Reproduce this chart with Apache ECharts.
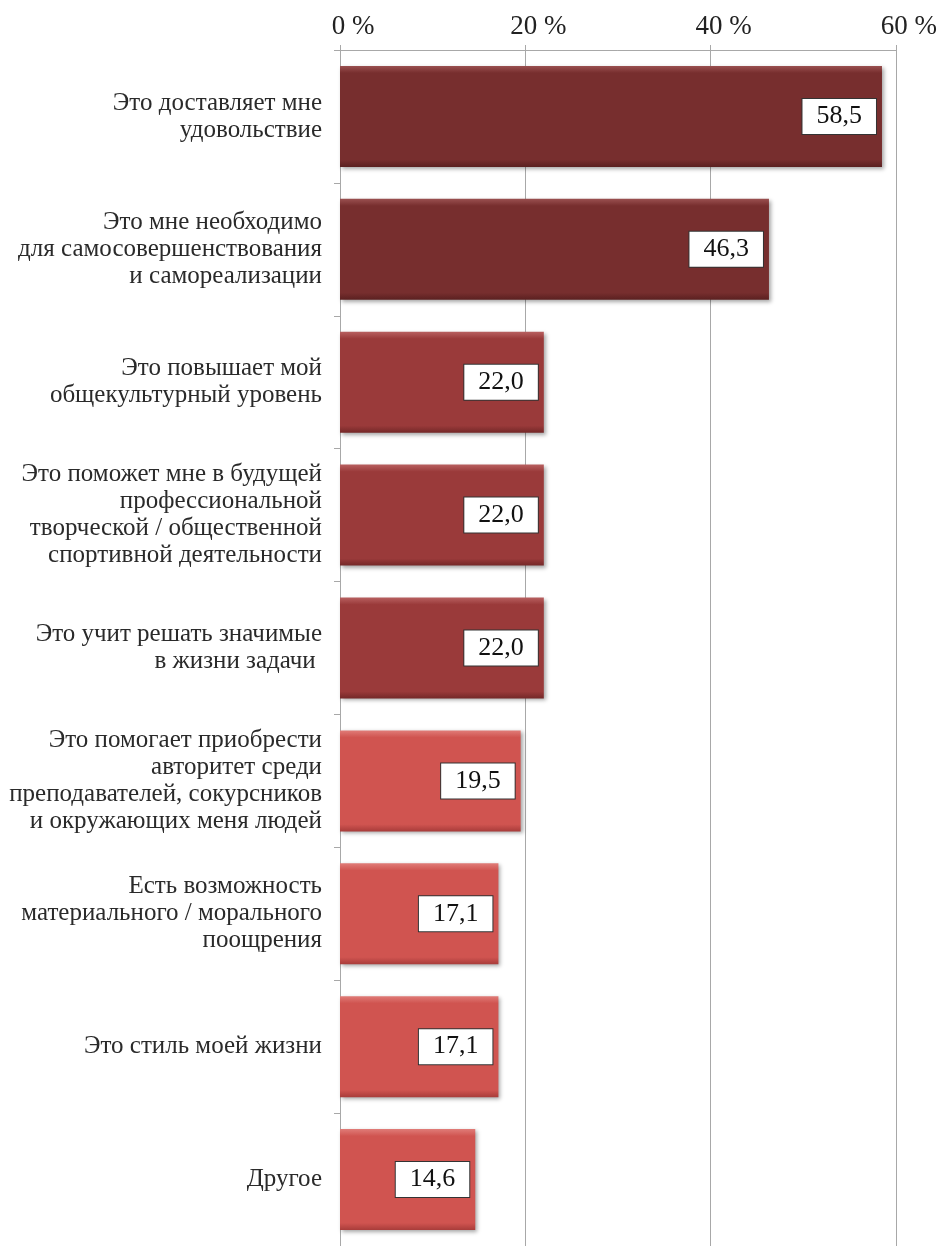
<!DOCTYPE html>
<html>
<head>
<meta charset="utf-8">
<script src="https://cdn.jsdelivr.net/npm/echarts@6/dist/echarts.min.js"></script>
<style>
html,body{margin:0;padding:0;background:#fff;}
#chart{width:940px;height:1246px;}
</style>
</head>
<body>
<div id="chart"></div>
<script>
const categories = [
  "Это доставляет мне\nудовольствие",
  "Это мне необходимо\nдля самосовершенствования\nи самореализации",
  "Это повышает мой\nобщекультурный уровень",
  "Это поможет мне в будущей\nпрофессиональной\nтворческой / общественной\nспортивной деятельности",
  "Это учит решать значимые\nв жизни задачи ",
  "Это помогает приобрести\nавторитет среди\nпреподавателей, сокурсников\nи окружающих меня людей",
  "Есть возможность\nматериального / морального\nпоощрения",
  "Это стиль моей жизни",
  "Другое"
];
const values = [58.5, 46.3, 22.0, 22.0, 22.0, 19.5, 17.1, 17.1, 14.6];
const tickValues = [0, 20, 40, 60];
const colorGroup = [0, 0, 1, 1, 1, 2, 2, 2, 2];

const palette = [
  {base:'#772e2e', light:'#9a5050', dark:'#5a2020'},
  {base:'#9a3a3a', light:'#b86060', dark:'#742828'},
  {base:'#d05450', light:'#e07c78', dark:'#a83c3a'}
];

function grad(p){
  return new echarts.graphic.LinearGradient(0,0,0,1,[
    {offset:0, color:p.light},
    {offset:0.07, color:p.base},
    {offset:0.93, color:p.base},
    {offset:1, color:p.dark}
  ]);
}

const chart = echarts.init(document.getElementById('chart'), null, {renderer:'canvas'});
const font = '"Liberation Serif", "Times New Roman", serif';

chart.setOption({
  animation:false,
  backgroundColor:'#fff',
  grid:{left:340, right:43, top:50, bottom:0},
  xAxis:{
    type:'value', position:'top', min:0, max:60, interval:20,
    axisLine:{show:true, lineStyle:{color:'#a8a8a8', width:1}},
    axisTick:{show:true, length:5, lineStyle:{color:'#a8a8a8'}},
    splitLine:{show:true, lineStyle:{color:'#a8a8a8', width:1}},
    axisLabel:{
      color:'#222', fontFamily:font, fontSize:27, margin:10,
      padding:[0,0,0,26],
      formatter:function(v){ return tickValues.indexOf(v) >= 0 ? v + ' %' : ''; }
    }
  },
  yAxis:{
    type:'category', inverse:true, data:categories,
    axisLine:{show:true, lineStyle:{color:'#a8a8a8', width:1}},
    axisTick:{show:true, length:6, alignWithLabel:false, lineStyle:{color:'#a8a8a8'}},
    axisLabel:{
      color:'#2a2a2a', fontFamily:font, fontSize:25, lineHeight:27, margin:18, align:'right'
    }
  },
  series:[{
    type:'bar',
    data: values.map(function(v,i){
      return {value:v, itemStyle:{color:grad(palette[colorGroup[i]])}};
    }),
    barCategoryGap:'24%',
    itemStyle:{
      shadowColor:'rgba(0,0,0,0.35)', shadowBlur:4, shadowOffsetX:2, shadowOffsetY:2
    },
    label:{
      show:true, position:'insideRight', distance:6,
      formatter:function(p){ return p.value.toFixed(1).replace('.', ','); },
      fontFamily:font, fontSize:26, color:'#111', lineHeight:26,
      backgroundColor:'#fff', borderColor:'#333', borderWidth:1,
      padding:[5,14,4,14]
    }
  }]
});
</script>
</body>
</html>
